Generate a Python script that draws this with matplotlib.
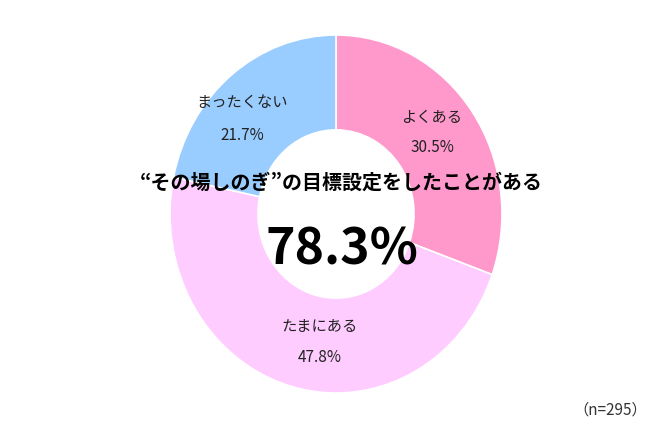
import matplotlib.pyplot as plt

plt.rcParams['font.family'] = ['Noto Sans CJK JP', 'DejaVu Sans']

labels = ["よくある", "たまにある", "まったくない"]
shares = [30.5, 47.8, 21.7]
colors = ["#FF99CC", "#FFCCFF", "#99CCFF"]
title = "“その場しのぎ”の目標設定をしたことがある"
total = "78.3%"
note = "（n=295）"

W, H = 670, 426
fig = plt.figure(figsize=(W / 100, H / 100), dpi=100)
ax = fig.add_axes([0, 0, 1, 1])

# the donut in the original is slightly taller than wide
cx, cy = 336, 214     # pixel centre (from top)
rx, ry = 166, 179     # pixel radii
ax.pie(shares, colors=colors, startangle=90, counterclock=False,
       radius=1, wedgeprops=dict(width=0.53, edgecolor="white", linewidth=1.2))
ax.set_aspect("auto")
ax.set_xlim(-cx / rx, (W - cx) / rx)
ax.set_ylim(-(H - cy) / ry, cy / ry)
ax.axis("off")


def put(x, y, s, **kw):
    fig.text(x / W, 1 - y / H, s, ha="center", va="center", **kw)


# label positions (pixels from top-left)
label_pos = [(432, 117, 147), (320, 327, 358), (242, 103, 135)]
for lab, val, (x, y1, y2) in zip(labels, shares, label_pos):
    put(x, y1, lab, fontsize=11, color="#222222")
    put(x, y2, f"{val}%", fontsize=11, color="#222222")

put(341, 182, title, fontsize=14.4, fontweight="bold", color="black")
put(342, 250, total, fontsize=36, fontweight="bold", color="black")
put(610, 410, note, fontsize=11, color="#333333")

fig.savefig("out.png", dpi=100, facecolor="white")
